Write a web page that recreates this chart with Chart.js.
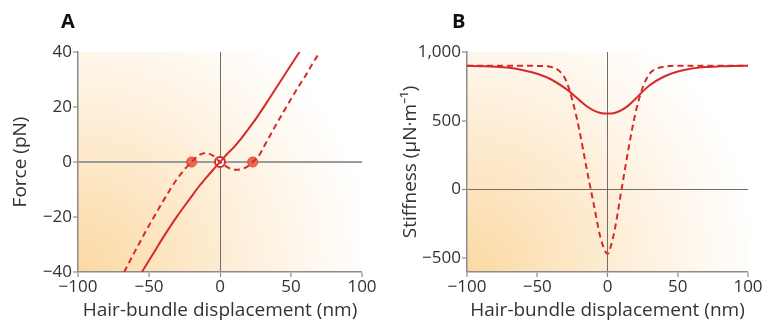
<!DOCTYPE html>
<html>
<head>
<meta charset="utf-8">
<script src="https://cdn.jsdelivr.net/npm/chart.js@4.4.0/dist/chart.umd.min.js"></script>
<style>
  html, body { margin: 0; padding: 0; background: #ffffff; }
  body { width: 765px; height: 327px; position: relative; overflow: hidden; }
  .wrap { position: absolute; top: 0; width: 380px; height: 327px; }
  .lbl { position: absolute; top: 7px; font: bold 20px "Open Sans", sans-serif; color: #111; }
</style>
</head>
<body>
<div class="wrap" style="left:0px"><canvas id="cA" width="380" height="327"></canvas></div>
<div class="wrap" style="left:385px"><canvas id="cB" width="380" height="327"></canvas></div>
<div class="lbl" style="left:61px">A</div>
<div class="lbl" style="left:452px">B</div>
<script>
// ---------- DATA ----------
const xTicks = [-100, -50, 0, 50, 100];
const forceTicks = [-40, -20, 0, 20, 40];
const stiffTicks = [-500, 0, 500, 1000];

// Panel A: force vs displacement
const forceSolidX = [-55,-50,-45,-40,-35,-30,-25,-20,-15,-10,-5,0,5,10,15,20,25,30,35,40,45,50,56];
const forceSolidY = [-40,-35.8,-31.6,-27.4,-23.4,-19.6,-16,-12.5,-9,-5.9,-2.9,0,2.9,5.5,8.6,12,15.5,19.3,23.3,27.3,31.3,35.3,40];
const forceDashedX = [-67.5,-60,-55,-50,-45,-40,-35,-30,-25,-20,-15,-10,-5,0,5,10,15,20,23,28,30,35,40,45,50,55,60,65,69];
const forceDashedY = [-40,-32.6,-27.8,-23.1,-18.6,-14.2,-9.9,-6,-2.7,0,2.4,3.3,2.3,0,-1.8,-2.8,-2.6,-1.4,0,2.8,4.7,9.4,14,18.5,22.9,27.2,31.2,35.6,39];
const stableX = [-20, 23];
const stableY = [0, 0];
const unstableX = [0];
const unstableY = [0];

// Panel B: stiffness vs displacement
const stiffSolidX = [-100,-90,-80,-70,-60,-50,-40,-30,-25,-20,-15,-10,-5,0,5,10,15,20,25,30,40,50,60,70,80,90,100];
const stiffSolidY = [900,897,893,885,868,842,800,735,695,650,607,575,557,552,557,577,612,660,712,758,820,858,880,891,896,899,900];
const stiffDashedX = [-100,-80,-60,-50,-45,-40,-35,-30,-25,-20,-15,-10,-5,-2,0,2,5,10,15,20,25,30,35,40,45,50,60,80,100];
const stiffDashedY = [900,900,900,899,897,891,868,803,650,430,160,-97,-350,-440,-468,-425,-300,0,300,560,740,843,880,893,898,900,900,900,900];

// ---------- HELPERS ----------
const RED = '#d52a2c';
const AXIS = '#8c8c8c';
const TEXT = '#333333';
const FONT = '"Open Sans", sans-serif';

function pts(xs, ys) { return xs.map((x, i) => ({ x: x, y: ys[i] })); }
function fmt(v) {
  const s = Math.abs(v).toLocaleString('en-US');
  return v < 0 ? '\u2212' + s : s;
}

const bgPlugin = {
  id: 'bg',
  beforeDraw(chart) {
    const { ctx, chartArea: a } = chart;
    const R = (a.right - a.left) * 1.05;
    const g = ctx.createRadialGradient(a.left, a.bottom, 0, a.left, a.bottom, R);
    g.addColorStop(0, '#fbd9a2');
    g.addColorStop(0.35, '#fde7c6');
    g.addColorStop(0.7, '#fef5e8');
    g.addColorStop(1, '#ffffff');
    ctx.save();
    ctx.fillStyle = g;
    ctx.fillRect(a.left, a.top, a.right - a.left, a.bottom - a.top);
    ctx.restore();
  }
};

function makeChart(id, cfg) {
  return new Chart(document.getElementById(id), {
    type: 'line',
    data: { datasets: cfg.datasets },
    options: {
      responsive: false,
      animation: false,
      events: [],
      layout: { padding: { left: 0, right: cfg.padRight, top: 52, bottom: 0 } },
      plugins: { legend: { display: false }, tooltip: { enabled: false } },
      elements: { line: { cubicInterpolationMode: 'monotone' } },
      scales: {
        x: {
          type: 'linear', min: -100, max: 100,
          afterBuildTicks: s => { s.ticks = xTicks.map(v => ({ value: v })); },
          afterFit: s => { s.height = 55; },
          border: { display: true, color: AXIS, width: 1.5 },
          grid: {
            drawOnChartArea: true, tickLength: 5,
            color: c => c.tick && c.tick.value === 0 ? cfg.vzColor : 'rgba(0,0,0,0)',
            lineWidth: c => c.tick && c.tick.value === 0 ? 1 : 0,
            tickColor: AXIS, tickWidth: 1.2
          },
          ticks: { color: TEXT, padding: 0, font: { family: FONT, size: 17 }, callback: v => fmt(v), maxRotation: 0 },
          title: { display: true, text: 'Hair-bundle displacement (nm)', color: TEXT,
                   font: { family: FONT, size: 19 }, padding: { top: 0, bottom: 5 } }
        },
        y: {
          type: 'linear', min: cfg.ymin, max: cfg.ymax,
          afterBuildTicks: s => { s.ticks = cfg.yTicks.map(v => ({ value: v })); },
          afterFit: s => { s.width = cfg.yWidth; },
          border: { display: true, color: AXIS, width: 1.5 },
          grid: {
            drawOnChartArea: true, tickLength: 5,
            color: c => c.tick && c.tick.value === 0 ? cfg.hzColor : 'rgba(0,0,0,0)',
            lineWidth: c => c.tick && c.tick.value === 0 ? cfg.hzWidth : 0,
            tickColor: AXIS, tickWidth: 1.2
          },
          ticks: { color: TEXT, padding: 1, font: { family: FONT, size: 17 }, callback: v => fmt(v) },
          title: { display: true, text: cfg.yTitle, color: TEXT,
                   font: { family: FONT, size: 19 }, padding: { top: cfg.yTitlePad, bottom: 0 } }
        }
      }
    },
    plugins: [bgPlugin]
  });
}

const lineDefaults = { borderColor: RED, borderWidth: 2, pointRadius: 0, fill: false };

makeChart('cA', {
  padRight: 18, yWidth: 78, ymin: -40, ymax: 40, yTicks: forceTicks,
  yTitle: 'Force (pN)', yTitlePad: 9,
  vzColor: '#6e6e6e', hzColor: '#9a9a9a', hzWidth: 2,
  datasets: [
    Object.assign({ data: pts(forceSolidX, forceSolidY) }, lineDefaults),
    Object.assign({ data: pts(forceDashedX, forceDashedY), borderDash: [6, 4] }, lineDefaults),
    { data: pts(stableX, stableY), showLine: false, pointRadius: 5, pointBackgroundColor: '#ea6a4f',
      pointBorderColor: '#dc4a3a', pointBorderWidth: 1 },
    { data: pts(unstableX, unstableY), showLine: false, pointRadius: 5, pointBackgroundColor: '#ffffff',
      pointBorderColor: RED, pointBorderWidth: 2 }
  ]
});

makeChart('cB', {
  padRight: 17, yWidth: 82, ymin: -600, ymax: 1000, yTicks: stiffTicks,
  yTitle: 'Stiffness (\u03bcN\u00b7m\u207b\u00b9)', yTitlePad: 14,
  vzColor: '#6e6e6e', hzColor: '#6e6e6e', hzWidth: 1,
  datasets: [
    Object.assign({ data: pts(stiffSolidX, stiffSolidY) }, lineDefaults),
    Object.assign({ data: pts(stiffDashedX, stiffDashedY), borderDash: [6, 4] }, lineDefaults)
  ]
});
</script>
</body>
</html>
